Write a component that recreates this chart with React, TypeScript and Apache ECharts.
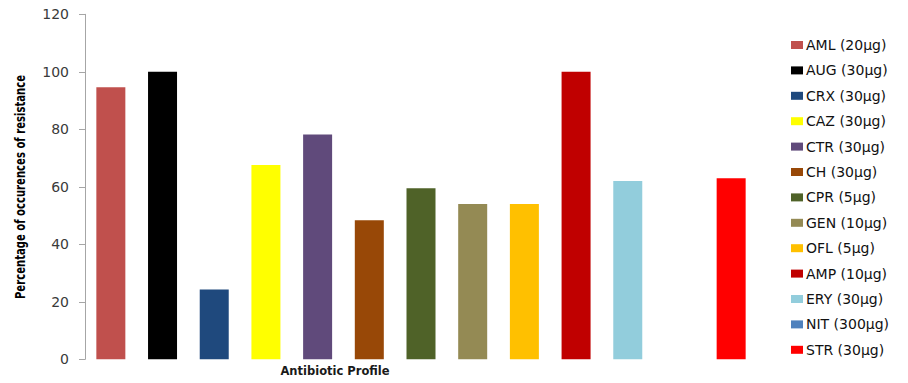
import React, { useEffect, useRef } from "react";
import * as echarts from "echarts";

const categories = ["AML", "AUG", "CRX", "CAZ", "CTR", "CH", "CPR", "GEN", "OFL", "AMP", "ERY", "NIT", "STR"];
const legendLabels = [
  "AML (20µg)",
  "AUG (30µg)",
  "CRX (30µg)",
  "CAZ (30µg)",
  "CTR (30µg)",
  "CH (30µg)",
  "CPR (5µg)",
  "GEN (10µg)",
  "OFL (5µg)",
  "AMP (10µg)",
  "ERY (30µg)",
  "NIT (300µg)",
  "STR (30µg)",
];
const resistance = [94.6, 100, 24.3, 67.6, 78.2, 48.4, 59.5, 54, 54, 100, 62, 0, 63];
const colors = [
  "#C0504D", "#000000", "#1F497D", "#FFFF00", "#604A7B", "#984807", "#4F6228",
  "#948A54", "#FFC000", "#C00000", "#92CDDC", "#4F81BD", "#FF0000",
];
const yTicks = { min: 0, max: 120, interval: 20 };

export default function App() {
  const ref = useRef<HTMLDivElement>(null);
  useEffect(() => {
    if (!ref.current) return;
    const chart = echarts.init(ref.current, undefined, { renderer: "svg" });
    const series = legendLabels.map((name, i) => ({
      name,
      type: "bar" as const,
      stack: "all",
      barWidth: 29,
      itemStyle: { color: colors[i] },
      data: categories.map((_, j) => (j === i ? resistance[i] : "-")),
    }));
    chart.setOption({
      animation: false,
      backgroundColor: "#ffffff",
      grid: { left: 85, right: 151, top: 14.3, bottom: 23.7, containLabel: false },
      xAxis: {
        type: "category",
        data: categories,
        axisLine: { show: false },
        axisTick: { show: false },
        axisLabel: { show: false },
        splitLine: { show: false },
      },
      yAxis: {
        type: "value",
        min: yTicks.min,
        max: yTicks.max,
        interval: yTicks.interval,
        axisLine: { show: true, lineStyle: { color: "#a6a6a6", width: 1 } },
        axisTick: { show: true, length: 6, lineStyle: { color: "#a6a6a6" } },
        splitLine: { show: false },
        axisLabel: {
          color: "#3a3a3a",
          fontFamily: "DejaVu Sans",
          fontSize: 14,
          margin: 16,
        },
      },
      legend: {
        orient: "vertical",
        left: 786,
        top: 33,
        itemWidth: 12,
        itemHeight: 8,
        itemGap: 11.4,
        icon: "rect",
        data: legendLabels,
        textStyle: {
          color: "#111111",
          fontFamily: "DejaVu Sans",
          fontSize: 14,
          lineHeight: 14,
          padding: [0, 0, 0, -2],
        },
      },
      graphic: [
        {
          type: "text",
          x: 20,
          y: 187,
          rotation: Math.PI / 2,
          scaleX: 0.72,
          style: {
            text: "Percentage of occurences of resistance",
            fontFamily: "DejaVu Sans",
            fontWeight: "bold",
            fontSize: 14,
            fill: "#000000",
            align: "center",
            verticalAlign: "middle",
          },
        },
        {
          type: "text",
          x: 335,
          y: 371,
          style: {
            text: "Antibiotic Profile",
            fontFamily: "DejaVu Sans",
            fontWeight: "bold",
            fontSize: 11.5,
            fill: "#1a1a1a",
            align: "center",
            verticalAlign: "middle",
          },
        },
      ],
      series,
    });
    return () => chart.dispose();
  }, []);
  return <div ref={ref} style={{ width: 908, height: 383, position: "absolute", left: 0, top: 0 }} />;
}
